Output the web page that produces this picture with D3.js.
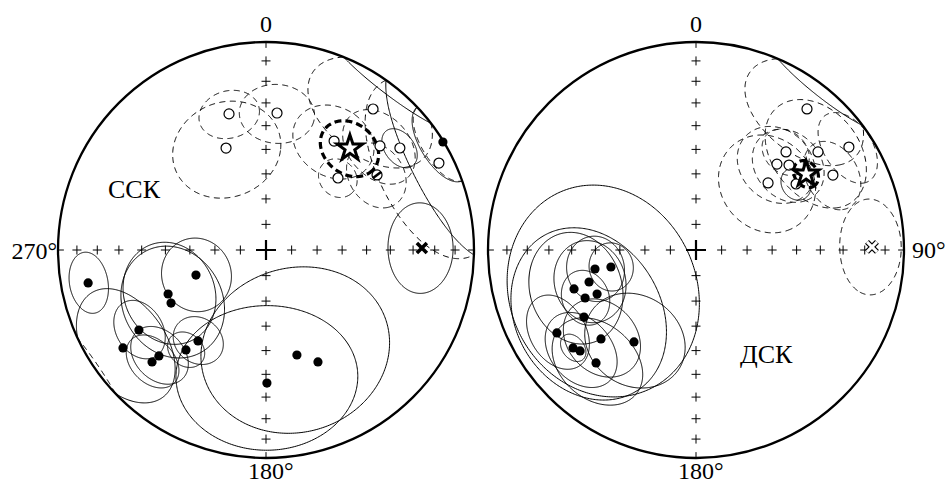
<!DOCTYPE html>
<html><head><meta charset="utf-8">
<script src="https://cdn.jsdelivr.net/npm/d3@7"></script>
<style>body{margin:0;background:#fff}svg{display:block}text{font-family:"Liberation Serif","Times New Roman",serif;fill:#000}</style>
</head><body>
<svg id="chart" width="950" height="484"></svg>
<script>
// ---------- data ----------
const tickIncs = [10, 20, 30, 40, 50, 60, 70, 80];
const cardinalDecs = [0, 90, 180, 270];
const netLabels = ["ССК", "ДСК"];

// Left net (ССК) — lower hemisphere sites (filled)
const sskLowDec = [259.5, 250.3, 245.8, 240.8, 237.8, 235.6, 225.3, 225.5, 218.7, 216.8, 163.6, 155.1, 179.6, 58.6];
const sskLowInc = [14.1, 60.7, 47.2, 46.6, 28.6, 17.8, 28.4, 24.2, 38.4, 44.6, 46.3, 40.4, 36.2, 0.4];
const sskLowA95 = [9.5, 14, 19, 21, 10.5, 20, 11, 10, 7, 9.5, 35, 0, 32, 12];
// Left net — upper hemisphere sites (open)
const sskUpDec = [344.8, 4.6, 338.6, 37.2, 32.0, 47.6, 52.7, 45.0, 55.95, 63.3];
const sskUpInc = [-32.7, -34.3, -46.3, -16.0, -38.2, -26.7, -20.2, -49.5, -35.8, -7.7];
const sskUpA95 = [10.5, 13, 20, 22, 15, 14, 7, 7.5, 12, 29];
const sskUpRing = ["d", "d", "d", "d", "d", "d", "s", "d", "d", "d"];
const sskUpMark = ["o", "o", "o", "o", "o", "o", "o", "o", "h", "o"];
const sskMeanStar = [39.5, -36.7, 11];
const sskMeanX = [89.3, 26.0, 15];

// Right net (ДСК) — lower hemisphere sites (filled)
const dskLowDec = [259.35, 258.7, 253.35, 252.3, 246.0, 246.6, 239.1, 239.2, 226.9, 214.0, 231.45, 228.95, 221.5];
const dskLowInc = [49.1, 55.7, 45.4, 38.4, 46.8, 41.5, 37.3, 23.2, 37.5, 45.7, 25.4, 27.0, 28.3];
const dskLowA95 = [12, 9, 15, 20, 40, 10, 32, 13, 15, 19, 5, 14, 17];
// Right net — upper hemisphere sites (open)
const dskUpDec = [38.2, 56.05, 42.56, 51.2, 43.3, 47.6, 61.3, 47.06, 56.6];
const dskUpInc = [-14.8, -12.4, -36.2, -25.7, -42.7, -39.3, -25.9, -50.9, -41.9];
const dskUpA95 = [21, 12, 9, 20, 15, 14, 12, 19, 6];
const dskUpRing = ["d", "d", "d", "d", "d", "d", "d", "d", "s"];
const dskMeanStar = [55.4, -35.9, 5];
const dskMeanX = [89.0, -16.5, 15];

// ---------- drawing ----------
const R = 208, CY = 250;
const svg = d3.select("#chart");
const circleGen = d3.geoCircle().precision(1);

function makeProj(cx) {
  return d3.geoAzimuthalEqualArea()
    .rotate([0, -90]).clipAngle(90)
    .scale(R / Math.SQRT2).translate([cx, CY]).precision(0.1);
}
const lonOf = dec => 180 - dec;

function drawNet(cx, low, up, star, xm, label) {
  const proj = makeProj(cx);
  const path = d3.geoPath(proj);
  const g = svg.append("g");
  const P = (dec, inc) => proj([lonOf(dec), Math.abs(inc)]);

  // primitive
  g.append("circle").attr("cx", cx).attr("cy", CY).attr("r", R)
    .attr("fill", "none").attr("stroke", "#000").attr("stroke-width", 2.3);

  // axis crosses
  const cg = g.append("g").attr("stroke", "#000").attr("stroke-width", 1);
  cardinalDecs.forEach(dec => {
    tickIncs.forEach(inc => {
      const [x, y] = P(dec, inc);
      cg.append("path").attr("d", `M${x - 4.5},${y}H${x + 4.5}M${x},${y - 4.5}V${y + 4.5}`);
    });
    const [ex, ey] = P(dec, 0);
    const [ix, iy] = P(dec, 3.2);
    cg.append("path").attr("d", `M${ex},${ey}L${ix},${iy}`);
  });
  g.append("path").attr("d", `M${cx - 10},${CY}H${cx + 10}M${cx},${CY - 10}V${CY + 10}`)
    .attr("stroke", "#000").attr("stroke-width", 2.2);

  const cgrp = g.append("g").attr("fill", "none").attr("stroke", "#000");
  function conf(dec, inc, a95, mode, width, dash) {
    if (!a95) return;
    const ring = circleGen.center([lonOf(dec), inc]).radius(a95)().coordinates[0];
    const lower = { type: "LineString", coordinates: ring };
    const upper = { type: "LineString", coordinates: ring.map(([x, y]) => [x, -y]) };
    const dsh = dash || "6,4.5";
    cgrp.append("path").attr("d", path(lower)).attr("stroke-width", width || 1)
      .attr("stroke-dasharray", mode === "d" ? dsh : null);
    cgrp.append("path").attr("d", path(upper)).attr("stroke-width", width || 1)
      .attr("stroke-dasharray", mode === "s" ? null : dsh);
  }
  low.dec.forEach((d, i) => conf(d, low.inc[i], low.a95[i], "auto"));
  up.dec.forEach((d, i) => conf(d, up.inc[i], up.a95[i], up.ring[i] === "s" ? "s" : "auto"));
  if (xm) conf(xm[0], xm[1], xm[2], "auto");
  conf(star[0], star[1], star[2], "auto", 3.2, "7,4");

  // markers
  low.dec.forEach((d, i) => {
    const [x, y] = P(d, low.inc[i]);
    g.append("circle").attr("cx", x).attr("cy", y).attr("r", 4.6).attr("fill", "#000");
  });
  up.dec.forEach((d, i) => {
    const [x, y] = P(d, up.inc[i]);
    g.append("circle").attr("cx", x).attr("cy", y).attr("r", 5)
      .attr("fill", "#fff").attr("stroke", "#000").attr("stroke-width", 1.2);
    if (up.mark && up.mark[i] === "h") {
      g.append("path").attr("d", `M${x - 4},${y + 3}L${x + 4},${y - 3}`)
        .attr("stroke", "#000").attr("stroke-width", 2.6);
    }
  });
  if (xm) {
    const [x, y] = P(xm[0], xm[1]);
    const dxy = `M${x - 5},${y - 5}L${x + 5},${y + 5}M${x - 5},${y + 5}L${x + 5},${y - 5}`;
    if (xm[1] >= 0) {
      g.append("path").attr("d", dxy).attr("stroke", "#000").attr("stroke-width", 3.6);
    } else {
      g.append("path").attr("d", dxy).attr("stroke", "#000").attr("stroke-width", 5.5);
      g.append("path").attr("d", dxy).attr("stroke", "#fff").attr("stroke-width", 3);
    }
  }
  {
    const [x, y] = P(star[0], star[1]);
    g.append("path").attr("d", d3.symbol(d3.symbolStar, 200)())
      .attr("transform", `translate(${x},${y})`)
      .attr("fill", "#fff").attr("stroke", "#000").attr("stroke-width", 3)
      .attr("stroke-linejoin", "miter");
  }

  // labels
  g.append("text").attr("x", cx).attr("y", 32).attr("text-anchor", "middle")
    .attr("font-size", 24).text("0");
  g.append("text").attr("x", cx - 18).attr("y", 479).attr("font-size", 24).text("180°");
  return g;
}

const gl = drawNet(266,
  { dec: sskLowDec, inc: sskLowInc, a95: sskLowA95 },
  { dec: sskUpDec, inc: sskUpInc, a95: sskUpA95, ring: sskUpRing, mark: sskUpMark },
  sskMeanStar, sskMeanX, netLabels[0]);
const gr = drawNet(696,
  { dec: dskLowDec, inc: dskLowInc, a95: dskLowA95 },
  { dec: dskUpDec, inc: dskUpInc, a95: dskUpA95, ring: dskUpRing },
  dskMeanStar, dskMeanX, netLabels[1]);

svg.append("text").attr("x", 57).attr("y", 259).attr("text-anchor", "end").attr("font-size", 24).text("270°");
svg.append("text").attr("x", 912).attr("y", 258).attr("font-size", 24).text("90°");
svg.append("text").attr("x", 108).attr("y", 198).attr("font-size", 26).text(netLabels[0]);
svg.append("text").attr("x", 740).attr("y", 363).attr("font-size", 26).text(netLabels[1]);
</script>
</body></html>
